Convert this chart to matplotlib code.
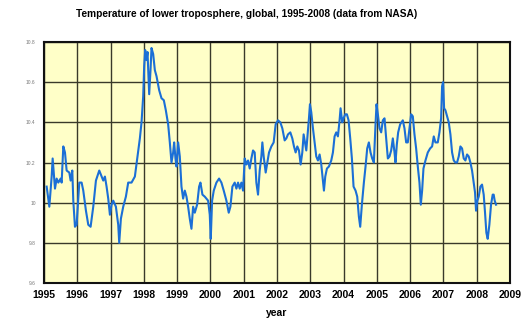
import matplotlib
matplotlib.use("Agg")
import matplotlib.pyplot as plt

# Lower-troposphere temperature, sampled along the record (decimal year, value)
years = [
    1995.08, 1995.16, 1995.23, 1995.26, 1995.33, 1995.38, 1995.43, 1995.50, 1995.53,
    1995.58, 1995.63, 1995.68, 1995.76, 1995.80, 1995.85, 1995.88, 1995.93, 1995.98,
    1996.06, 1996.13, 1996.18, 1996.26, 1996.33, 1996.40, 1996.48, 1996.56,
    1996.66, 1996.73, 1996.78, 1996.83, 1996.88, 1996.93, 1996.98, 1997.03, 1997.08,
    1997.16, 1997.23, 1997.26, 1997.31, 1997.38, 1997.46, 1997.53, 1997.63, 1997.73,
    1997.80, 1997.88, 1997.93, 1997.98, 1998.01, 1998.04, 1998.08, 1998.11, 1998.16,
    1998.20, 1998.23, 1998.28, 1998.33, 1998.38, 1998.46, 1998.53, 1998.60, 1998.66,
    1998.73, 1998.78, 1998.83, 1998.88, 1998.91, 1998.95, 1998.98, 1999.03, 1999.08,
    1999.13, 1999.18, 1999.23, 1999.28, 1999.33, 1999.38, 1999.43, 1999.48, 1999.53,
    1999.60, 1999.66, 1999.70, 1999.76, 1999.83, 1999.93, 1999.98, 2000.01, 2000.05,
    2000.10, 2000.18, 2000.26, 2000.33, 2000.40, 2000.48, 2000.55, 2000.60, 2000.66,
    2000.73, 2000.78, 2000.83, 2000.88, 2000.93, 2000.98, 2001.03, 2001.08, 2001.13,
    2001.18, 2001.23, 2001.28, 2001.33, 2001.38, 2001.43, 2001.48, 2001.53, 2001.56,
    2001.60, 2001.66, 2001.70, 2001.76, 2001.83, 2001.90, 2001.96, 2002.03, 2002.10,
    2002.16, 2002.23, 2002.28, 2002.33, 2002.40, 2002.46, 2002.51, 2002.56, 2002.61,
    2002.66, 2002.71, 2002.76, 2002.80, 2002.84, 2002.88, 2002.92, 2002.96, 2002.99,
    2003.03, 2003.08, 2003.13, 2003.18, 2003.23, 2003.28, 2003.33, 2003.38, 2003.41,
    2003.45, 2003.50, 2003.56, 2003.63, 2003.68, 2003.73, 2003.78, 2003.83, 2003.88,
    2003.91, 2003.96, 2004.00, 2004.05, 2004.10, 2004.15, 2004.20, 2004.25, 2004.30,
    2004.36, 2004.41, 2004.46, 2004.50, 2004.55, 2004.61, 2004.66, 2004.71, 2004.76,
    2004.81, 2004.86, 2004.91, 2004.96, 2004.99, 2005.03, 2005.08, 2005.13, 2005.18,
    2005.23, 2005.28, 2005.33, 2005.38, 2005.43, 2005.48, 2005.53, 2005.56, 2005.60,
    2005.64, 2005.70, 2005.78, 2005.83, 2005.88, 2005.93, 2005.98, 2006.03, 2006.08,
    2006.13, 2006.18, 2006.23, 2006.28, 2006.32, 2006.36, 2006.40, 2006.46, 2006.53,
    2006.60, 2006.66, 2006.71, 2006.76, 2006.83, 2006.88, 2006.93, 2006.96, 2006.99,
    2007.02, 2007.06, 2007.11, 2007.16, 2007.21, 2007.26, 2007.31, 2007.36, 2007.41,
    2007.46, 2007.51, 2007.56, 2007.61, 2007.66, 2007.71, 2007.76, 2007.81, 2007.86,
    2007.91, 2007.95, 2007.98, 2008.02, 2008.06, 2008.11, 2008.16, 2008.21, 2008.25,
    2008.29, 2008.33, 2008.38, 2008.43, 2008.48, 2008.51, 2008.54, 2008.58,
]
temps = [
    10.08, 9.98, 10.13, 10.22, 10.07, 10.12, 10.10, 10.12, 10.10,
    10.28, 10.25, 10.16, 10.15, 10.11, 10.16, 10.01, 9.88, 9.89,
    10.10, 10.10, 10.06, 9.96, 9.89, 9.88, 9.98, 10.11,
    10.16, 10.13, 10.11, 10.13, 10.08, 10.02, 9.94, 9.99, 10.01,
    9.98, 9.89, 9.80, 9.92, 9.98, 10.03, 10.10, 10.10, 10.13,
    10.22, 10.32, 10.40, 10.53, 10.68, 10.76, 10.71, 10.75, 10.54,
    10.66, 10.77, 10.74, 10.66, 10.63, 10.56, 10.52, 10.51, 10.46,
    10.39, 10.30, 10.20, 10.25, 10.30, 10.22, 10.18, 10.30, 10.23,
    10.08, 10.02, 10.06, 10.03, 9.98, 9.92, 9.87, 9.98, 9.95,
    9.99, 10.08, 10.10, 10.04, 10.03, 10.01, 9.94, 9.82, 10.01,
    10.06, 10.10, 10.12, 10.10, 10.06, 10.01, 9.95, 9.98, 10.08,
    10.10, 10.07, 10.10, 10.07, 10.10, 10.06, 10.22, 10.19, 10.21,
    10.17, 10.22, 10.26, 10.25, 10.10, 10.04, 10.16, 10.23, 10.30,
    10.23, 10.15, 10.19, 10.25, 10.28, 10.30, 10.39, 10.41, 10.40,
    10.37, 10.31, 10.32, 10.34, 10.35, 10.32, 10.28, 10.25, 10.28,
    10.26, 10.19, 10.25, 10.34, 10.30, 10.26, 10.34, 10.42, 10.49,
    10.45, 10.37, 10.30, 10.23, 10.21, 10.24, 10.19, 10.11, 10.06,
    10.13, 10.17, 10.18, 10.21, 10.25, 10.33, 10.35, 10.33, 10.41,
    10.47, 10.40, 10.42, 10.44, 10.44, 10.41, 10.32, 10.22, 10.08,
    10.06, 10.03, 9.93, 9.88, 9.99, 10.10, 10.18, 10.27, 10.30,
    10.25, 10.22, 10.20, 10.39, 10.49, 10.44, 10.37, 10.35, 10.41,
    10.42, 10.32, 10.22, 10.23, 10.26, 10.32, 10.25, 10.20, 10.29,
    10.35, 10.39, 10.41, 10.37, 10.30, 10.30, 10.37, 10.44, 10.43,
    10.34, 10.27, 10.18, 10.10, 9.99, 10.06, 10.17, 10.21, 10.25,
    10.27, 10.28, 10.33, 10.30, 10.30, 10.35, 10.42, 10.58, 10.60,
    10.47, 10.46, 10.43, 10.40, 10.34, 10.25, 10.21, 10.20, 10.20,
    10.23, 10.28, 10.27, 10.22, 10.21, 10.24, 10.23, 10.20, 10.16,
    10.10, 10.05, 9.96, 10.01, 10.03, 10.08, 10.09, 10.04, 9.95,
    9.85, 9.82, 9.89, 9.99, 10.04, 10.04, 10.01, 9.99,
]

year_ticks = list(range(1995, 2010))
temp_ticks = [9.6, 9.8, 10.0, 10.2, 10.4, 10.6, 10.8]
temp_labels = ["9.6", "9.8", "10", "10.2", "10.4", "10.6", "10.8"]

plt.rcParams["font.family"] = ["Liberation Sans", "DejaVu Sans"]

fig = plt.figure(figsize=(5.30, 3.26), dpi=100)
ax = fig.add_axes([44 / 530, 1 - 283 / 326, (510 - 44) / 530, (283 - 42) / 326])
ax.set_facecolor("#ffffc8")

ax.plot(years, temps, color="#1b6fd6", linewidth=1.5, solid_joinstyle="round", zorder=3)

ax.set_xlim(1995, 2009)
ax.set_ylim(9.6, 10.8)
ax.set_xticks(year_ticks)
ax.set_xticklabels([str(y) for y in year_ticks], fontsize=7.5, fontweight="bold")
ax.set_yticks(temp_ticks)
ax.set_yticklabels(temp_labels, fontsize=3.5, color="#777777")
ax.tick_params(axis="both", length=0)
ax.tick_params(axis="x", pad=5)
ax.tick_params(axis="y", pad=6)

ax.grid(True, color="#3a3a2a", linewidth=1.0, zorder=1)
ax.set_axisbelow(True)
for s in ax.spines.values():
    s.set_color("#111111")
    s.set_linewidth(1.5)

ax.set_xlabel("year", fontsize=7.5, fontweight="bold", labelpad=6)
fig.text(0.466, 0.957, "Temperature of lower troposphere, global, 1995-2008 (data from NASA)",
         ha="center", va="center", fontsize=7.3, fontweight="bold")

fig.savefig("out.png", dpi=100)
